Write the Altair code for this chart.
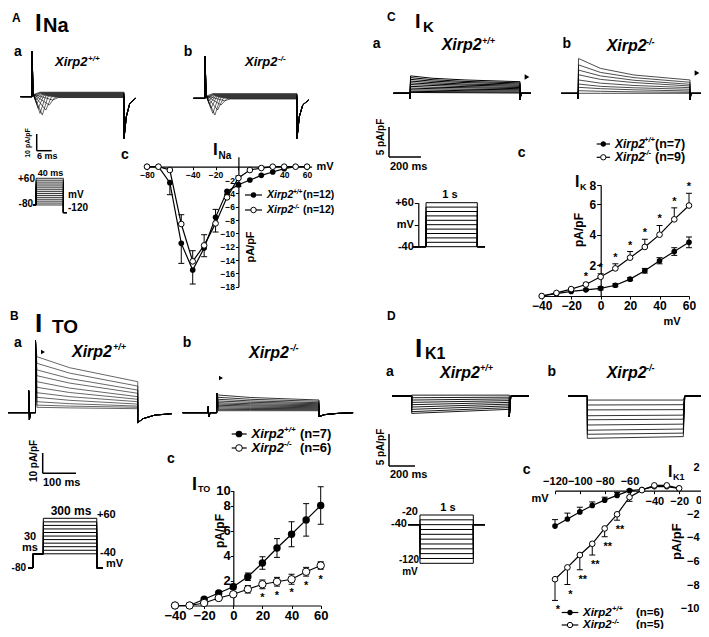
import altair as alt
import pandas as pd

FONT = "Liberation Sans"
W, H, M = 693, 621, 8

# ======================= DATA =======================
# ---- A: I_Na current-voltage (pA/pF) ----
na_v = [-80, -70, -60, -50, -40, -30, -20, -10, 0, 10, 20, 30, 40, 50, 60]
na_wt = [0, 0, -2.4, -11.5, -15.5, -12.2, -7.6, -3.7, -2.7, -2.0, -1.3, -0.8, -0.3, 0, 0]
na_wt_up = [0, 0, 0, 0, 0, 0, 1.2, 0, 0, 0, 0, 0, 0, 0, 0]
na_wt_dn = [0, 0, 1.8, 3.0, 2.1, 1.3, 0, 0.5, 0.3, 0, 0, 0, 0, 0, 0]
na_ko = [0, 0, -0.5, -8.6, -14.2, -11.8, -8.5, -4.6, -1.7, -0.5, -0.2, 0, 0, 0, 0]
na_ko_up = [0, 0, 0, 1.4, 1.6, 1.6, 0, 0.5, 0.3, 0, 0, 0, 0, 0, 0]
na_ko_dn = [0, 0, 0, 0, 0, 0, 1.3, 0, 0, 0, 0, 0, 0, 0, 0]

# ---- B: I_TO ----
to_v = [-40, -30, -20, -10, 0, 10, 20, 30, 40, 50, 60]
to_wt = [0, 0, 0.5, 1.0, 1.5, 2.3, 3.4, 4.6, 5.7, 6.85, 8.0]
to_wt_err = [0, 0, 0.1, 0.15, 0.2, 0.3, 0.5, 0.75, 1.0, 1.3, 1.5]
to_ko = [0, 0, 0.2, 0.6, 0.9, 1.3, 1.7, 1.9, 2.1, 2.7, 3.2]
to_ko_err = [0, 0, 0, 0.1, 0.2, 0.3, 0.35, 0.35, 0.4, 0.35, 0.3]
to_star_v = [20, 30, 40, 50, 60]
to_star = ["*", "*", "*", "*", "*"]

# ---- C: I_K ----
k_v = [-40, -30, -20, -10, 0, 10, 20, 30, 40, 50, 60]
k_wt = [0, 0.15, 0.3, 0.4, 0.5, 0.7, 1.1, 1.65, 2.3, 2.9, 3.5]
k_wt_err = [0, 0, 0, 0.05, 0.1, 0.1, 0.1, 0.15, 0.2, 0.25, 0.35]
k_ko = [0, 0.2, 0.45, 0.75, 1.25, 1.8, 2.5, 3.2, 4.0, 5.0, 5.9]
k_ko_up = [0, 0, 0, 0.1, 0.2, 0.3, 0.4, 0.5, 0.6, 0.75, 0.8]
k_ko_dn = [0, 0, 0, 0, 0, 0, 0, 0, 0, 0, 0]
k_star_v = [-10, 0, 10, 20, 30, 40, 50, 60]
k_star = ["*", "*", "*", "*", "*", "*", "*", "*"]

# ---- D: I_K1 ----
k1_v = [-120, -110, -100, -90, -80, -70, -60, -50, -40, -30, -20]
k1_wt = [-3.0, -2.4, -1.8, -1.25, -0.8, -0.4, 0, 0.1, 0.35, 0.35, 0.2]
k1_wt_up = [0.55, 0.5, 0.4, 0.3, 0.25, 0.25, 0.1, 0, 0, 0, 0]
k1_wt_dn = [0, 0, 0, 0, 0, 0, 0, 0, 0, 0, 0]
k1_ko = [-7.5, -6.5, -5.45, -4.5, -3.2, -2.0, -0.55, 0.05, 0.45, 0.45, 0.2]
k1_ko_up = [0, 0, 0, 0, 0, 0, 0, 0, 0, 0, 0]
k1_ko_dn = [1.8, 1.45, 1.25, 0.95, 0.7, 0.5, 0.35, 0, 0, 0, 0]
k1_star_v = [-120, -110, -100, -90, -80, -70]
k1_star = ["*", "*", "**", "**", "**", "**"]

# ---- example current traces (ms, pA/pF) ----
na_tr_wt_peak = [-2, -5, -8, -11, -10, -7, -4, -2, -0.5, 0.5, 1.0, 1.5]
na_tr_wt_tpk = [9.0, 7.5, 6.0, 4.5, 3.5, 2.7, 2.1, 1.7, 1.4, 1.2, 1.1, 1.0]
na_tr_wt_late = [-0.5, -0.3, 0.0, 0.3, 0.6, 0.9, 1.2, 1.5, 1.8, 2.1, 2.4, 2.7]
na_tr_ko_peak = [-1.5, -4, -7, -10, -9, -6, -3.5, -1.5, 0.0, 0.5, 1.0, 1.5]
na_tr_ko_tpk = [8.5, 7.0, 5.5, 4.3, 3.4, 2.6, 2.0, 1.6, 1.3, 1.1, 1.0, 0.9]
na_tr_ko_late = [-0.4, -0.2, 0.1, 0.4, 0.7, 1.0, 1.3, 1.6, 1.9, 2.2, 2.5, 2.8]
na_tr_spike = [27, 25]
na_tr_tail = [[-25, -12, -4, -1], [-24, -11, -4, -1]]

to_tr_wt_peak = [28, 24.7, 21.4, 18.5, 15.5, 12.7, 10.0, 7.7, 5.5, 3.8, 2.7]
to_tr_wt_mid = [22.5, 19.8, 17.1, 14.8, 12.3, 10.1, 8.0, 6.2, 4.5, 3.3, 2.4]
to_tr_wt_end = [15.5, 13.3, 11.3, 9.7, 8.0, 6.7, 5.5, 4.3, 3.3, 2.7, 2.0]
to_tr_ko_peak = [8.85, 7.7, 6.7, 5.85, 5.0, 4.35, 3.7, 3.0, 2.35, 1.7, 1.0]
to_tr_ko_mid = [7.6, 6.7, 5.9, 5.2, 4.5, 3.9, 3.35, 2.75, 2.15, 1.6, 1.0]
to_tr_ko_end = [6.35, 5.7, 5.0, 4.5, 4.0, 3.5, 3.0, 2.5, 2.0, 1.5, 1.0]
to_tr_spike = [36, 9.7]
to_tr_pre = [[-20, 11, -3.5], [-25, 3, -2]]
to_tr_tail = [[-5, -3, -1.2, -0.5], [-2, -1, -0.4, 0]]

k_tr_wt_start = [3.0, 2.7, 2.4, 2.1, 1.8, 1.5, 1.2, 0.9, 0.6, 0.35, 0.15]
k_tr_wt_m200 = [2.6, 2.35, 2.1, 1.85, 1.6, 1.35, 1.05, 0.8, 0.55, 0.3, 0.12]
k_tr_wt_m500 = [2.3, 2.05, 1.85, 1.6, 1.4, 1.15, 0.95, 0.7, 0.45, 0.25, 0.1]
k_tr_wt_end = [2.0, 1.8, 1.6, 1.4, 1.2, 1.0, 0.8, 0.6, 0.4, 0.2, 0.05]
k_tr_ko_start = [6.0, 4.9, 4.0, 3.2, 2.3, 1.6, 1.03, 0.45, 0]
k_tr_ko_m200 = [4.3, 3.6, 3.0, 2.4, 1.75, 1.2, 0.8, 0.35, 0]
k_tr_ko_m500 = [3.15, 2.7, 2.25, 1.85, 1.35, 0.95, 0.6, 0.25, 0]
k_tr_ko_end = [2.3, 1.9, 1.55, 1.26, 0.97, 0.69, 0.4, 0.17, 0]

k1_tr_wt_start = [0.15, -0.3, -0.7, -1.1, -1.5, -1.9, -2.3, -2.7, -3.0]
k1_tr_wt_end = [0.15, -0.2, -0.5, -0.8, -1.1, -1.4, -1.7, -2.0, -2.3]
k1_tr_ko_start = [-0.7, -1.55, -2.4, -3.4, -4.1, -5.0, -5.9, -6.6, -7.3]
k1_tr_ko_end = [-0.7, -1.5, -2.35, -3.3, -4.0, -4.85, -5.7, -6.4, -7.0]

# ---- voltage protocols (mV) ----
na_prot_steps = [-80, -70, -60, -50, -40, -30, -20, -10, 0, 10, 20, 30, 40, 50, 60]
to_prot_steps = [-40, -30, -20, -10, 0, 10, 20, 30, 40, 50, 60]
k_prot_steps = [-40, -30, -20, -10, 0, 10, 20, 30, 40, 50, 60]
k1_prot_steps = [-120, -110, -100, -90, -80, -70, -60, -50, -40, -30, -20]

# ======================= HELPERS =======================
ONE = pd.DataFrame({"k": [0]})


def sc(dom, rng):
    return alt.Scale(domain=dom, range=[r - M for r in rng], nice=False, zero=False)


def axis(orient, at, values, size, expr=None, tick=4, pad=2, **kw):
    off = (at - M) - H if orient == "bottom" else -(at - M)
    d = dict(orient=orient, offset=off, values=values, title=None, grid=False,
             labelFont=FONT, labelFontSize=size, labelFontWeight="bold", labelColor="black",
             domainColor="black", domainWidth=1.2, tickColor="black", tickWidth=1,
             tickSize=tick, labelPadding=pad, labelOverlap=False, labelFlush=False,
             labelBound=False)
    if expr:
        d["labelExpr"] = expr
    d.update(kw)
    return alt.Axis(**d)


def T(x, y, s, size=12, bold=True, italic=False, align="left", baseline="middle", angle=0):
    return alt.Chart(ONE).mark_text(
        text=s, font=FONT, fontSize=size, fontWeight="bold" if bold else "normal",
        fontStyle="italic" if italic else "normal", align=align, baseline=baseline,
        angle=angle, color="black").encode(x=alt.value(x - M), y=alt.value(y - M))


def R(x1, y1, x2, y2, w=1.2):
    return alt.Chart(ONE).mark_rule(color="black", strokeWidth=w).encode(
        x=alt.value(x1 - M), y=alt.value(y1 - M), x2=alt.value(x2 - M), y2=alt.value(y2 - M))


def P(x, y, filled=True, size=30, shape="circle"):
    if filled:
        mk = alt.Chart(ONE).mark_point(shape=shape, filled=True, color="black", size=size, opacity=1)
    else:
        mk = alt.Chart(ONE).mark_point(shape=shape, filled=True, fill="white", stroke="black",
                                       strokeWidth=1, size=size, opacity=1)
    return mk.encode(x=alt.value(x - M), y=alt.value(y - M))


def frame(polys):
    rows = []
    for s, pts in enumerate(polys):
        for i, (t, c) in enumerate(pts):
            rows.append({"s": s, "i": i, "t": t, "c": c})
    return pd.DataFrame(rows)


def lines(df, tdom, trng, cdom, crng, w=0.6, yaxis=None):
    return alt.Chart(df).mark_line(color="black", strokeWidth=w).encode(
        x=alt.X("t:Q", scale=sc(tdom, trng), axis=None),
        y=alt.Y("c:Q", scale=sc(cdom, crng), axis=yaxis),
        detail="s:N", order="i:Q")


def iv(v, wt, wt_up, wt_dn, ko, ko_up, ko_dn, xsc, ysc, xax, yax, psize,
       stars=None, star_size=12, star_dy=12, star_dx=0):
    def fr(m, up, dn):
        return pd.DataFrame({"V": v, "m": m, "up": up, "dn": dn,
                             "hi": [a + b for a, b in zip(m, up)],
                             "lo": [a - b for a, b in zip(m, dn)]})
    fw, fk = fr(wt, wt_up, wt_dn), fr(ko, ko_up, ko_dn)
    X = alt.X("V:Q", scale=xsc, axis=xax)

    def Y(f):
        return alt.Y(f + ":Q", scale=ysc, axis=yax)
    layers = []
    for f in (fw, fk):
        layers.append(alt.Chart(f).mark_line(color="black", strokeWidth=1.2).encode(x=X, y=Y("m")))
    for f in (fw, fk):
        e = f[(f.up > 0) | (f.dn > 0)]
        if len(e):
            layers.append(alt.Chart(e).mark_rule(color="black", strokeWidth=1).encode(
                x=X, y=Y("lo"), y2="hi:Q"))
        for c, fld in ((e[e.up > 0], "hi"), (e[e.dn > 0], "lo")):
            if len(c):
                layers.append(alt.Chart(c).mark_tick(orient="horizontal", size=6, thickness=1,
                                                     color="black", opacity=1).encode(x=X, y=Y(fld)))
    layers.append(alt.Chart(fw).mark_point(shape="circle", filled=True, color="black",
                                           size=psize, opacity=1).encode(x=X, y=Y("m")))
    layers.append(alt.Chart(fk).mark_point(shape="circle", filled=True, fill="white",
                                           stroke="black", strokeWidth=1, size=psize,
                                           opacity=1).encode(x=X, y=Y("m")))
    if stars is not None:
        sv, st, src = stars
        lut = dict(zip(src["V"], src["pos"]))
        sdf = pd.DataFrame({"V": sv, "s": st, "pos": [lut[a] for a in sv]})
        layers.append(alt.Chart(sdf).mark_text(font=FONT, fontWeight="bold", fontSize=star_size,
                                               dy=star_dy, dx=star_dx, align="center",
                                               baseline="middle", color="black").encode(
            x=X, y=Y("pos"), text="s:N"))
    return alt.layer(*layers)


layers = []

# ======================= PANEL A: I_Na =======================
na_polys_wt, na_polys_ko = [], []
for pk, tp, lt in zip(na_tr_wt_peak, na_tr_wt_tpk, na_tr_wt_late):
    tl = na_tr_tail[0]
    na_polys_wt.append([(-5, 0), (0, 0), (0, na_tr_spike[0]), (0.5, 1.5), (tp, pk), (tp + 2.5, lt),
                        (40, lt), (40, tl[0]), (41, tl[1]), (42.5, tl[2]), (45, tl[3])])
for pk, tp, lt in zip(na_tr_ko_peak, na_tr_ko_tpk, na_tr_ko_late):
    tl = na_tr_tail[1]
    na_polys_ko.append([(-5, 0), (0, 0), (0, na_tr_spike[1]), (0.5, 1.5), (tp, pk), (tp + 2.5, lt),
                        (40, lt), (40, tl[0]), (41, tl[1]), (42.5, tl[2]), (45, tl[3])])
layers.append(lines(frame(na_polys_wt), [-5, 45], [20.5, 135.5], [-30, 30], [146.8, 46.6], 0.6))
layers.append(lines(frame(na_polys_ko), [-5, 45], [193.5, 308.5], [-30, 30], [148.4, 48.2], 0.6))

# protocol A
na_prot = [[(-4, -80), (0, -80), (0, L), (40, L), (40, -120), (45, -120)] for L in na_prot_steps]
layers.append(lines(frame(na_prot), [-4, 45], [33.3, 66.8], [-120, 60], [212.6, 178.3], 0.8))

# IV A
na_x = sc([-82, 64], [144.7, 311.6])
na_y = sc([-18, 1.5], [286.7, 156.7])
layers.append(iv(
    na_v, na_wt, na_wt_up, na_wt_dn, na_ko, na_ko_up, na_ko_dn, na_x, na_y,
    axis("bottom", 166.7, [-80, -60, -40, -20, 0, 20, 40, 60], 8.5,
         expr="indexof([-60, 0, 20], datum.value) >= 0 ? '' : datum.label", tick=3, pad=1),
    axis("left", 238.4, [-18, -16, -14, -12, -10, -8, -6, -4, -2], 8.5, tick=3, pad=1),
    32))

# texts A
layers += [
    T(12, 22, "A", 12, baseline="alphabetic"),
    T(35, 31, "I", 24, baseline="alphabetic"),
    T(43, 32, "Na", 20, baseline="alphabetic"),
    T(18, 52, "a", 14, align="center"),
    T(188, 52, "b", 14, align="center"),
    T(55, 66, "Xirp2", 13, italic=True, baseline="alphabetic"),
    T(88, 61, "+/+", 8, italic=True, baseline="alphabetic"),
    T(245, 66, "Xirp2", 13, italic=True, baseline="alphabetic"),
    T(278, 61, "-/-", 8, italic=True, baseline="alphabetic"),
    R(36.7, 134, 36.7, 150.7, 1.5), R(36.7, 150.7, 51.7, 150.7, 1.5),
    T(28, 143, "10 pA/pF", 7, align="center", angle=270),
    T(37, 156, "6 ms", 9),
    T(35, 178.5, "+60", 10, align="right"),
    T(50.5, 173, "40 ms", 9, align="center"),
    T(33, 203.5, "-80", 10, align="right"),
    T(68, 195, "mV", 10),
    T(68, 207.5, "-120", 10),
    T(125, 155, "c", 14, align="center"),
    T(213, 155, "I", 17, baseline="alphabetic"),
    T(218.5, 158.5, "Na", 10, baseline="alphabetic"),
    T(325, 167, "mV", 11, align="center"),
    T(251, 247, "pA/pF", 11, align="center", angle=270),
]
for yy, filled, sup in ((195, True, "+/+"), (210, False, "-/-")):
    layers += [R(245, yy, 262, yy, 1.2), P(253.5, yy, filled, 30),
               T(267, yy, "Xirp2", 10.5, italic=True),
               T(293, yy - 3, sup, 6.5, italic=True),
               T(303, yy, "(n=12)", 10.5)]

# ======================= PANEL B: I_TO =======================
def to_polys(peaks, mids, ends, spk, pre, tail):
    out = []
    for pk, md, en in zip(peaks, mids, ends):
        out.append([(-100, 0), (pre[0], 0), (pre[0], pre[1]), (pre[0] + 2, pre[2]), (pre[0] + 6, 0),
                    (0, 0), (0, spk), (4, pk), (100, md), (300, en), (300, tail[0]),
                    (315, tail[1]), (350, tail[2]), (400, tail[3])])
    return out


layers.append(lines(frame(to_polys(to_tr_wt_peak, to_tr_wt_mid, to_tr_wt_end, to_tr_spike[0],
                                   to_tr_pre[0], to_tr_tail[0])),
                    [-100, 400], [1.4, 171.9], [-10, 40], [432.7, 332.7], 0.6))
layers.append(lines(frame(to_polys(to_tr_ko_peak, to_tr_ko_mid, to_tr_ko_end, to_tr_spike[1],
                                   to_tr_pre[1], to_tr_tail[1])),
                    [-100, 400], [182.6, 353.1], [-10, 40], [432.7, 332.7], 0.8))

to_prot = [[(-85, -80), (-58, -80), (-58, -40), (0, -40), (0, L), (300, L), (300, -80), (335, -80)]
           for L in to_prot_steps]
layers.append(lines(frame(to_prot), [-85, 335], [28.2, 103.0], [-80, 60], [568, 518.3], 1.0))

to_x = sc([-40, 60], [175, 320.7])
to_y = sc([0, 9.2], [605.5, 490.5])
to_stars_src = {"V": to_v, "pos": to_ko}
layers.append(iv(
    to_v, to_wt, to_wt_err, to_wt_err, to_ko, to_ko_err, to_ko_err, to_x, to_y,
    axis("bottom", 605.5, [-40, -20, 0, 20, 40, 60], 13, tick=3, pad=1),
    axis("left", 233.3, [2, 4, 6, 8, 9.2], 13,
         expr="datum.value > 9 ? '10' : datum.label", tick=3, pad=0),
    55, stars=(to_star_v, to_star, to_stars_src), star_size=11, star_dy=14))

layers += [
    T(10, 316, "B", 12),
    T(35, 332, "I", 26, baseline="alphabetic"),
    T(52, 333, "TO", 19, baseline="alphabetic"),
    T(18, 343, "a", 14, align="center"),
    T(187, 343, "b", 14, align="center"),
    T(72, 357, "Xirp2", 16, italic=True, baseline="alphabetic"),
    T(113, 350, "+/+", 9, italic=True, baseline="alphabetic"),
    T(249, 358, "Xirp2", 16, italic=True, baseline="alphabetic"),
    T(290, 351, "-/-", 9, italic=True, baseline="alphabetic"),
    P(43, 352, True, 22, "triangle-right"),
    P(221, 378, True, 22, "triangle-right"),
    R(42.7, 453, 42.7, 473.3, 1.5), R(42.7, 473.3, 76, 473.3, 1.5),
    T(34, 461, "10 pA/pF", 10, align="center", angle=270),
    T(43, 483, "100 ms", 11),
    T(71, 510.5, "300 ms", 12, align="center"),
    T(97, 515, "+60", 11),
    T(30, 537, "30", 11, align="center"),
    T(30, 548, "ms", 11, align="center"),
    T(26, 568, "-80", 10, align="right"),
    T(100, 553, "-40", 11),
    T(106, 564, "mV", 11),
    T(171, 459, "c", 14, align="center"),
    T(192, 490, "I", 18, baseline="alphabetic"),
    T(198, 492, "TO", 9, baseline="alphabetic"),
    T(220, 531, "pA/pF", 12, align="center", angle=270),
]
for yy, filled, sup, n in ((434, True, "+/+", "(n=7)"), (448, False, "-/-", "(n=6)")):
    layers += [R(231.7, yy, 246.7, yy, 1.2), P(239, yy, filled, 45),
               T(251.5, yy, "Xirp2", 13, italic=True),
               T(284, yy - 4, sup, 8, italic=True),
               T(300, yy, n, 13)]

# ======================= PANEL C: I_K =======================
def k_polys(st, m2, m5, en):
    return [[(-150, 0), (0, 0), (0, -0.9), (5, a), (200, b), (500, c), (1000, d), (1000, -1.1),
             (1010, 0), (1100, 0)] for a, b, c, d in zip(st, m2, m5, en)]


layers.append(lines(frame(k_polys(k_tr_wt_start, k_tr_wt_m200, k_tr_wt_m500, k_tr_wt_end)),
                    [-150, 1100], [393.5, 531], [-2, 8], [104.9, 46.9], 1.0))
layers.append(lines(frame(k_polys(k_tr_ko_start, k_tr_ko_m200, k_tr_ko_m500, k_tr_ko_end)),
                    [-150, 1100], [561.2, 701.2], [-2, 8], [104.9, 46.9], 0.7))

k_prot = [[(-254, -40), (0, -40), (0, L), (1000, L), (1000, -40), (1150, -40)] for L in k_prot_steps]
layers.append(lines(frame(k_prot), [-254, 1150], [413, 485], [-40, 60], [246.7, 202.7], 1.0,
                    yaxis=axis("left", 418.3, [60, 10, -40], 11,
                               expr="datum.value == 60 ? '+60' : datum.value == 10 ? 'mV' : '-40'",
                               tick=4, pad=1)))

k_x = sc([-40, 60], [541.7, 689])
k_y = sc([0, 7.24], [296, 185])
k_stars_src = {"V": k_v, "pos": [a + b for a, b in zip(k_ko, k_ko_up)]}
layers.append(iv(
    k_v, k_wt, k_wt_err, k_wt_err, k_ko, k_ko_up, k_ko_dn, k_x, k_y,
    axis("bottom", 296, [-40, -20, 0, 20, 40, 60], 12, tick=3, pad=1),
    axis("left", 600.7, [2, 4, 6, 7.24], 12,
         expr="datum.value > 7 ? '8' : datum.label", tick=4, pad=1),
    32, stars=(k_star_v, k_star, k_stars_src), star_size=11, star_dy=-6))

layers += [
    T(387, 21, "C", 12, baseline="alphabetic"),
    T(415, 28, "I", 20, baseline="alphabetic"),
    T(423, 32, "K", 15, baseline="alphabetic"),
    T(376.7, 44, "a", 14, align="center"),
    T(566.7, 44, "b", 14, align="center"),
    T(441.7, 50, "Xirp2", 16, italic=True, baseline="alphabetic"),
    T(482, 44, "+/+", 9, italic=True, baseline="alphabetic"),
    T(606.7, 51, "Xirp2", 16, italic=True, baseline="alphabetic"),
    T(646, 45, "-/-", 9, italic=True, baseline="alphabetic"),
    P(527, 77, True, 30, "triangle-right"),
    P(697, 73, True, 30, "triangle-right"),
    R(389, 127, 389, 157, 1.5), R(389, 157, 421, 157, 1.5),
    T(381, 137, "5 pA/pF", 10, align="center", angle=270),
    T(390, 167, "200 ms", 11),
    T(450, 195, "1 s", 11, align="center"),
    T(521.7, 152.7, "c", 14, align="center"),
    T(575, 187, "I", 16, baseline="alphabetic"),
    T(580, 190, "K", 9, baseline="alphabetic"),
    T(579, 230, "pA/pF", 12, align="center", angle=270),
    T(672, 322, "mV", 11, align="center"),
]
for yy, filled, sup, n in ((144, True, "+/+", "(n=7)"), (157.3, False, "-/-", "(n=9)")):
    layers += [R(596.7, yy, 610, yy, 1.2), P(603.3, yy, filled, 28),
               T(615, yy, "Xirp2", 12, italic=True),
               T(644, yy - 4, sup, 7.5, italic=True),
               T(655, yy, n, 12.5)]

# ======================= PANEL D: I_K1 =======================
def k1_polys(st, en, spk):
    return [[(-200, 0), (0, 0), (0, a), (1000, b), (1000, spk if spk is not None else b),
             (1015, 0), (1200, 0)] for a, b in zip(st, en)]


layers.append(lines(frame(k1_polys(k1_tr_wt_start, k1_tr_wt_end, -3.6)),
                    [-190, 1170], [393.2, 525.9], [-8, 2], [442.4, 384.4], 0.9))
layers.append(lines(frame(k1_polys(k1_tr_ko_start, k1_tr_ko_end, None)),
                    [-200, 1200], [568.1, 702.5], [-8, 2], [442.4, 384.4], 0.8))

k1_prot = [[(-219, -40), (0, -40), (0, L), (1000, L), (1000, -40), (1219, -40)] for L in k1_prot_steps]
layers.append(lines(frame(k1_prot), [-219, 1219], [408.3, 485], [-120, -20], [563.3, 515], 1.0))

k1_x = sc([-120, 0], [555, 704])
k1_y = sc([-10, 2], [608.7, 467.1])
k1_stars_src = {"V": k1_v, "pos": [a - b for a, b in zip(k1_ko, k1_ko_dn)]}
layers.append(iv(
    k1_v, k1_wt, k1_wt_up, k1_wt_dn, k1_ko, k1_ko_up, k1_ko_dn, k1_x, k1_y,
    axis("bottom", 490.7, [-120, -100, -80, -60, -40, -20], 11, tick=3,
         pad={"condition": {"test": "datum.value <= -60", "value": -18}, "value": 2}),
    axis("left", 704, [-10, -8, -6, -4, -2, 2], 11, tick=3, pad=2),
    32, stars=(k1_star_v, k1_star, k1_stars_src), star_size=11, star_dy=10, star_dx=3))

layers += [
    T(387, 316, "D", 12),
    T(415, 356.7, "I", 26, baseline="alphabetic"),
    T(425, 358.5, "K1", 16, baseline="alphabetic"),
    T(390, 371.7, "a", 14, align="center"),
    T(551.7, 371.7, "b", 14, align="center"),
    T(440, 378, "Xirp2", 16, italic=True, baseline="alphabetic"),
    T(480, 371, "+/+", 9, italic=True, baseline="alphabetic"),
    T(606.7, 378, "Xirp2", 16, italic=True, baseline="alphabetic"),
    T(646, 371, "-/-", 9, italic=True, baseline="alphabetic"),
    R(389, 434, 389, 466, 1.5), R(389, 466, 415, 466, 1.5),
    T(381, 447, "5 pA/pF", 10, align="center", angle=270),
    T(390, 475, "200 ms", 11),
    T(418, 511.5, "-20", 11, align="right"),
    T(407, 524.3, "-40", 11, align="right"),
    T(448, 508, "1 s", 11, align="center"),
    T(419, 560, "-120", 10, align="right"),
    T(410, 572, "mV", 10, align="center"),
    T(526.7, 470, "c", 14, align="center"),
    T(668, 477, "I", 16, baseline="alphabetic"),
    T(673, 480, "K1", 9, baseline="alphabetic"),
    T(702, 501, "0", 11, align="right"),
    T(540, 498.5, "mV", 11, align="center"),
    T(676.5, 541.7, "pA/pF", 13, align="center", angle=270),
]
for yy, filled, sup, n in ((612.5, True, "+/+", "(n=6)"), (625, False, "-/-", "(n=5)")):
    layers += [R(561.7, yy, 578.3, yy, 1.2), P(570, yy, filled, 28),
               T(583, yy, "Xirp2", 11.5, italic=True),
               T(612, yy - 3.5, sup, 7.5, italic=True),
               T(636, yy, n, 11.5)]

chart = alt.layer(*layers).resolve_scale(x="independent", y="independent").properties(
    width=W, height=H, autosize=alt.AutoSizeParams(type="none"), padding=0,
    background="white").configure_view(stroke=None)

chart.save("out.html", embed_options={"renderer": "svg", "actions": False})
